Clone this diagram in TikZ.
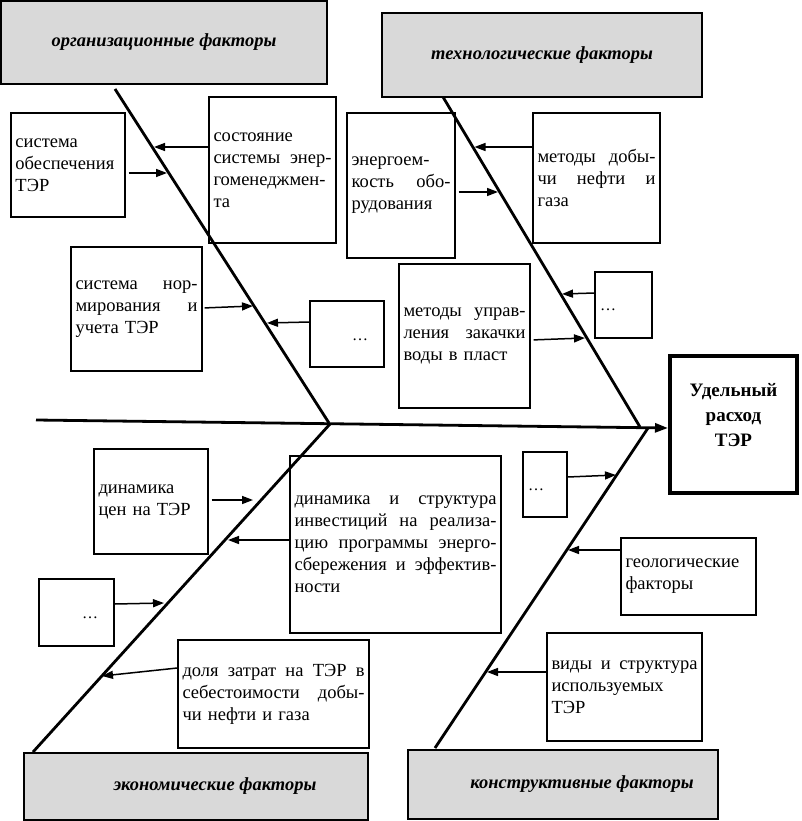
\documentclass[tikz,border=0pt]{standalone}
\usepackage{fontspec}
\setmainfont{Liberation Serif}
\usetikzlibrary{arrows.meta}
\newcommand\myfs{\fontsize{18.5}{22}\selectfont}
\newcommand\jl[1]{\leavevmode\hbox to \hsize{\spaceskip=0.25em plus 1fil\relax #1}\\}
\begin{document}
\begin{tikzpicture}[x=1pt,y=-1pt,
  box/.style={draw,line width=1.4pt,inner sep=0pt,align=left,font=\myfs},
  title/.style={draw,line width=1.6pt,fill=gray!30,inner sep=0pt,font=\myfs\bfseries\itshape},
  bone/.style={line width=2.8pt},
  arr/.style={line width=1.5pt,-{Triangle[length=11pt,width=8pt]}},
  dotsn/.style={inner sep=0pt,font=\fontsize{16}{16}\selectfont}]
\useasboundingbox (0,0) rectangle (801,821);
% factor titles
\node[title,minimum width=326pt,minimum height=83pt] (gorg) at (164,42.5) {организационные факторы};
\node[title,minimum width=320pt,minimum height=84pt] (gtech) at (542,55) {технологические факторы};
\node[title,minimum width=344pt,minimum height=67pt] (gecon) at (196,786.5) {\hspace*{38pt}экономические факторы};
\node[title,minimum width=310pt,minimum height=69pt] (gcon) at (563,784.5) {\hspace*{38pt}конструктивные факторы};
% organisational boxes
\node[box,minimum width=114pt,minimum height=104pt,text width=105pt] (o1) at (68,165) {система\\обеспечения\\ТЭР};
\node[box,minimum width=127pt,minimum height=146pt,text width=118pt] (o2) at (272.5,170) {состояние\\\jl{системы энер-}гоменеджмен-\\та};
\node[box,minimum width=131pt,minimum height=124pt,text width=122pt] (o3) at (136.5,309) {\jl{система нор-}\jl{мирования и}учета ТЭР};
\node[box,minimum width=74pt,minimum height=66pt] (o4) at (347,334) {};
\node[dotsn] (o4d) at (360,340) {\ldots};
% technological boxes
\node[box,minimum width=108pt,minimum height=145pt,text width=99pt] (t1) at (401,185.5) {энергоем-\\\jl{кость обо-}рудования};
\node[box,minimum width=127pt,minimum height=130pt,text width=118pt] (t2) at (596.5,178) {\jl{методы добы-}\jl{чи нефти и}газа};
\node[box,minimum width=131pt,minimum height=144pt,text width=122pt] (t3) at (464.5,336) {\jl{методы управ-}\jl{ления закачки}воды в пласт};
\node[box,minimum width=57pt,minimum height=66pt] (t4) at (623.5,305) {};
\node[dotsn] (t4d) at (608,310) {\ldots};
% result
\node[draw,line width=4.5pt,minimum width=127pt,minimum height=137pt,inner sep=0pt] (R) at (733.5,424.5) {};
\node[align=center,inner sep=0pt,font=\fontsize{19}{25}\selectfont\bfseries] (Rt) at (733.5,415) {Удельный\\расход\\ТЭР};
% economic boxes
\node[box,minimum width=114pt,minimum height=105pt,text width=105pt] (e1) at (151,501.5) {динамика\\цен на ТЭР};
\node[box,minimum width=211pt,minimum height=177pt,text width=202pt] (e2) at (395.5,544.5) {\jl{динамика и структура}\jl{инвестиций на реализа-}\jl{цию программы энерго-}\jl{сбережения и эффектив-}ности};
\node[box,minimum width=75pt,minimum height=67pt] (e3) at (76.5,612.5) {};
\node[dotsn] (e3d) at (90,618) {\ldots};
\node[box,minimum width=191pt,minimum height=108pt,text width=182pt] (e4) at (273.5,694) {\jl{доля затрат на ТЭР в}\jl{себестоимости добы-}чи нефти и газа};
% constructive boxes
\node[box,minimum width=44pt,minimum height=65pt] (c1) at (545,484.5) {};
\node[dotsn] (c1d) at (536,490) {\ldots};
\node[box,minimum width=135pt,minimum height=77pt,text width=126pt] (c2) at (688.5,576.5) {геологические\\факторы};
\node[box,minimum width=155pt,minimum height=108pt,text width=146pt] (c3) at (624.5,687) {\jl{виды и структура}используемых\\ТЭР};
% skeleton
\coordinate (s0) at (36,420);
\coordinate (s1) at (668,428);
\coordinate (ob1) at (115,89);
\coordinate (ob2) at (329,423);
\coordinate (tb1) at (443,97);
\coordinate (tb2) at (640,427);
\coordinate (eb1) at (330,424);
\coordinate (eb2) at (33,752);
\coordinate (cb1) at (648,428);
\coordinate (cb2) at (435,748);
\draw[bone,-{Triangle[length=13pt,width=9pt]}] (s0) -- (s1);
\draw[bone] (ob1) -- (ob2);
\draw[bone] (tb1) -- (tb2);
\draw[bone] (eb1) -- (eb2);
\draw[bone] (cb1) -- (cb2);
% arrow tips on bones
\coordinate (a1) at (154,147);
\coordinate (a2) at (167,173);
\coordinate (a3) at (253,306);
\coordinate (a4) at (267,323);
\coordinate (a5) at (474.5,147);
\coordinate (a6) at (498,192);
\coordinate (a7) at (562,294);
\coordinate (a8) at (585,338);
\coordinate (a9) at (253,500);
\coordinate (a10) at (228,540);
\coordinate (a11) at (164,603);
\coordinate (a12) at (102,676);
\coordinate (a13) at (616,475);
\coordinate (a14) at (568,550);
\coordinate (a15) at (487,672);
% arrows
\draw[arr] (o2.west |- a1) -- (a1);
\draw[arr,shorten <=3pt] (o1.east |- a2) -- (a2);
\draw[arr,shorten <=2pt] (o3.east |- 0,308) -- (a3);
\draw[arr] (o4.west |- 0,322) -- (a4);
\draw[arr] (t2.west |- a5) -- (a5);
\draw[arr,shorten <=3pt] (t1.east |- a6) -- (a6);
\draw[arr] (t4.west |- 0,293) -- (a7);
\draw[arr,shorten <=3pt] (t3.east |- 0,340) -- (a8);
\draw[arr,shorten <=3pt] (e1.east |- a9) -- (a9);
\draw[arr] (e2.west |- a10) -- (a10);
\draw[arr] (e3.east |- 0,604) -- (a11);
\draw[arr] (e4.west |- 0,668) -- (a12);
\draw[arr] (c1.east |- 0,477) -- (a13);
\draw[arr] (c2.west |- a14) -- (a14);
\draw[arr] (c3.west |- a15) -- (a15);
\end{tikzpicture}
\end{document}
